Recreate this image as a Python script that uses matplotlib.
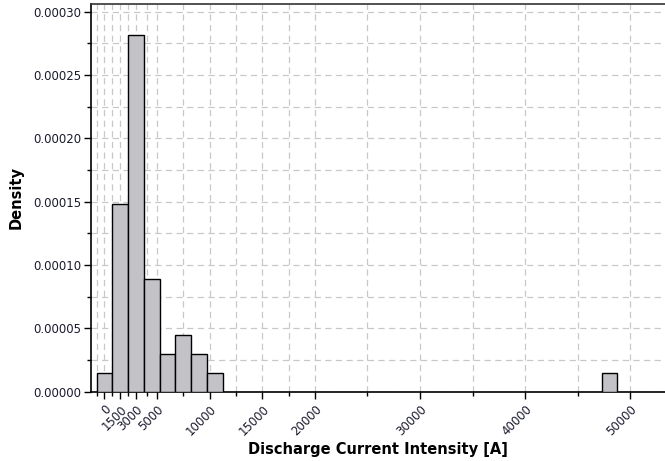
import numpy as np
import matplotlib.pyplot as plt
from matplotlib.ticker import FixedLocator, MultipleLocator

# histogram bins (1500 A wide, centred on multiples of 1500) and their counts
bin_width = 1500
bin_centers = [0, 1500, 3000, 4500, 6000, 7500, 9000, 10500, 48000]
bin_counts = [1, 10, 19, 6, 2, 3, 2, 1, 1]

# axis ticks
x_major = [0, 1500, 3000, 5000, 10000, 15000, 20000, 30000, 40000, 50000]
x_minor = [-750, 750, 2250, 4000, 7500, 12500, 17500, 25000, 35000, 45000]
y_major = [0.0, 0.00005, 0.00010, 0.00015, 0.00020, 0.00025, 0.00030]

n_total = sum(bin_counts)
density = np.array(bin_counts) / (n_total * bin_width)

fig = plt.figure(figsize=(6.65, 4.61), dpi=100)
fig.patch.set_facecolor('white')
ax = fig.add_axes([0.1368, 0.1503, 0.8632, 0.841])

ax.bar(bin_centers, density, width=bin_width, color='#c3c2c7',
       edgecolor='black', linewidth=1.0, zorder=3)

ax.set_xlim(-1283, 53280)
ax.set_ylim(0, 0.0003061)

ax.xaxis.set_major_locator(FixedLocator(x_major))
ax.xaxis.set_minor_locator(FixedLocator(x_minor))
ax.yaxis.set_major_locator(FixedLocator(y_major))
ax.yaxis.set_minor_locator(MultipleLocator(0.000025))

ax.set_xticklabels([str(v) for v in x_major], rotation=45, ha='right',
                   va='top', rotation_mode='anchor', fontsize=8.5,
                   color='#1a1a2e')
ax.set_yticklabels(['%.5f' % v for v in y_major], fontsize=8.5, color='#1a1a2e')

ax.tick_params(which='major', length=5, width=1, color='black', direction='out')
ax.tick_params(which='minor', length=3, width=1, color='black', direction='out')
ax.tick_params(axis='x', pad=3)
ax.tick_params(axis='y', pad=2)

ax.grid(True, which='both', color='#c8c8c8', linewidth=0.9,
        dashes=(5, 3.5), zorder=0)
ax.set_axisbelow(True)

for side in ['left', 'bottom']:
    ax.spines[side].set_color('black')
    ax.spines[side].set_linewidth(1.2)
ax.spines['top'].set_color('#333333')
ax.spines['top'].set_linewidth(1.2)
ax.spines['right'].set_visible(False)

ax.set_xlabel('Discharge Current Intensity [A]', fontsize=10.5, fontweight='bold',
              labelpad=3)
ax.set_ylabel('Density', fontsize=10.5, fontweight='bold', labelpad=7)

fig.savefig('out.png', dpi=100, facecolor='white')
